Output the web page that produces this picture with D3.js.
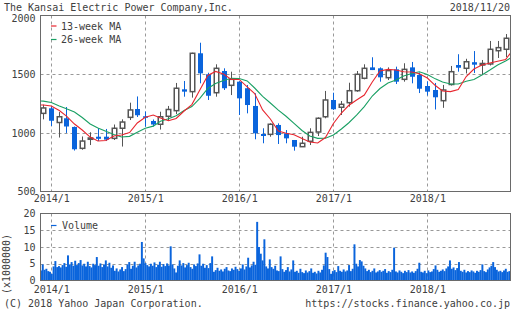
<!DOCTYPE html>
<html><head><meta charset="utf-8">
<script src="https://cdn.jsdelivr.net/npm/d3@7/dist/d3.min.js"></script>
<style>
html,body{margin:0;padding:0;background:#fff;}
svg{display:block;}
text{font-family:"DejaVu Sans Mono",monospace;font-size:10px;fill:#404040;}
</style></head><body><svg id="c" width="512" height="310"></svg>
<script>
// ---- data ----
const title = "The Kansai Electric Power Company,Inc.";
const dateLabel = "2018/11/20";
const months = ["2013/12",
"2014/01","2014/02","2014/03","2014/04","2014/05","2014/06","2014/07","2014/08","2014/09","2014/10","2014/11","2014/12",
"2015/01","2015/02","2015/03","2015/04","2015/05","2015/06","2015/07","2015/08","2015/09","2015/10","2015/11","2015/12",
"2016/01","2016/02","2016/03","2016/04","2016/05","2016/06","2016/07","2016/08","2016/09","2016/10","2016/11","2016/12",
"2017/01","2017/02","2017/03","2017/04","2017/05","2017/06","2017/07","2017/08","2017/09","2017/10","2017/11","2017/12",
"2018/01","2018/02","2018/03","2018/04","2018/05","2018/06","2018/07","2018/08","2018/09","2018/10","2018/11"];
const open  = [1166,
1209,1088,1124,1050,868,945,967,967,953,1039,1132,1203,
1141,1101,1073,1141,1189,1371,1351,1678,1499,1342,1527,1405,
1436,1380,1229,990,987,1067,996,939,882,928,1007,1137,
1280,1218,1257,1359,1465,1558,1550,1470,1541,1456,1558,1493,
1399,1365,1274,1412,1578,1550,1602,1578,1587,1700,1712];
const high  = [1240,
1226,1177,1220,1054,969,1005,1041,1033,1071,1115,1257,1310,
1182,1114,1180,1229,1425,1442,1683,1768,1512,1584,1550,1521,
1440,1408,1337,1039,1081,1081,1024,939,967,1039,1132,1357,
1342,1271,1427,1527,1584,1644,1558,1558,1564,1593,1604,1514,
1439,1425,1408,1570,1670,1631,1697,1621,1783,1783,1842];
const low   = [1115,
1058,960,999,849,856,896,930,930,939,883,1109,1135,
1052,1054,1028,1103,1160,1308,1300,1422,1280,1308,1365,1322,
1152,1166,945,911,967,905,911,848,879,896,973,1124,
1195,1152,1223,1350,1456,1535,1436,1450,1416,1436,1422,1339,
1318,1199,1213,1403,1521,1506,1510,1493,1574,1638,1646];
const close = [1212,
1103,1137,1054,860,930,956,949,942,1039,1092,1195,1150,
1131,1071,1137,1199,1380,1351,1678,1507,1316,1550,1380,1456,
1294,1237,996,973,1073,981,953,882,911,1004,1124,1280,
1201,1243,1359,1499,1550,1535,1473,1530,1436,1541,1478,1376,
1351,1303,1365,1521,1555,1606,1581,1591,1712,1726,1806];
// moving averages: first value at 2013/11/20, then one per month, last at 2018/11/20
const ma13 = [1237,1237,
1229,1190,1143,1075,1024,964,930,935,973,982,1003,1084,
1133,1152,1126,1103,1122,1186,1241,1365,1489,1523,1501,1456,
1455,1391,1335,1195,1118,1016,996,983,951,922,913,960,
1080,1169,1233,1280,1322,1433,1527,1541,1535,1521,1518,1503,
1467,1403,1357,1351,1369,1480,1544,1578,1595,1610,1625,1680];
const ma26 = [1271,1270,
1258,1229,1206,1178,1131,1075,1041,1013,986,965,970,1005,
1039,1057,1099,1120,1145,1190,1224,1293,1378,1420,1446,1465,
1463,1442,1382,1311,1254,1193,1141,1080,1020,973,953,954,
982,1033,1084,1150,1224,1314,1378,1425,1450,1484,1506,1520,
1497,1460,1433,1416,1416,1439,1455,1493,1535,1578,1612,1638];
// weekly volume (x1,000,000 shares), weeks starting 2013/11/18
const volume = [
3.0,4.8,3.2,3.5,2.8,2.6,2.0,4.2,5.8,4.0,
4.3,3.9,4.6,5.2,4.1,7.5,4.8,5.5,4.4,5.9,
4.6,5.2,6.1,4.5,5.0,4.2,5.6,4.3,3.9,5.0,
4.6,7.0,4.4,5.1,4.0,4.8,6.0,4.2,5.3,3.8,
4.5,2.9,3.6,2.7,3.3,4.0,2.8,3.4,4.8,5.5,
3.5,4.4,5.6,3.9,4.5,5.0,11.5,6.6,5.2,4.6,
4.2,5.0,4.4,5.4,4.0,4.7,5.6,4.1,4.9,4.3,
5.1,4.5,10.2,4.8,3.6,2.4,4.4,6.0,4.5,5.2,
3.9,4.6,5.3,4.0,3.5,4.8,4.3,5.1,7.8,4.4,
5.0,3.8,4.6,3.7,5.2,7.2,2.6,3.1,3.8,2.9,
3.3,2.7,3.5,4.0,3.0,2.8,3.6,3.2,4.1,3.4,
2.9,3.6,4.8,3.3,4.2,6.8,3.9,4.5,5.6,4.7,
17.5,10.0,8.0,6.0,12.3,4.2,3.6,6.3,4.0,3.5,
4.4,3.0,2.8,7.2,3.4,2.6,3.1,4.0,2.7,3.3,
6.0,2.6,2.9,2.3,3.5,2.5,2.2,3.0,2.4,2.8,
3.6,2.3,2.6,2.1,2.9,2.4,3.2,4.5,8.3,7.0,
3.4,2.0,2.8,3.1,2.5,4.3,2.9,2.6,3.3,2.7,
3.0,4.6,2.8,3.5,10.8,5.0,4.2,6.1,5.7,4.4,
3.6,2.8,3.2,2.5,2.9,3.6,2.4,2.7,3.1,2.6,
2.9,3.4,2.3,2.8,2.5,3.2,9.8,2.7,2.4,3.0,
2.6,2.2,2.9,2.5,3.1,2.4,2.7,2.3,2.8,3.5,
5.3,2.6,2.4,2.9,2.2,3.0,2.5,2.7,3.4,4.5,
3.2,2.6,2.9,3.3,2.8,3.6,4.2,6.0,3.5,3.9,
3.1,3.7,5.5,2.9,2.6,3.2,2.4,2.8,2.5,3.0,
2.7,2.3,2.9,2.6,3.1,4.8,2.8,2.5,3.3,3.9,
4.4,5.5,4.0,3.2,2.7,2.9,2.5,3.0,3.5,2.6,2.8];
const priceTicks = [500,1000,1500,2000];
const volTicks = [0,5,10,15,20];
const yearTicks = ["2014/1/1","2015/1/1","2016/1/1","2017/1/1","2018/1/1"];
const rangeStart = "2013/11/20", rangeEnd = "2018/11/20";

// ---- drawing ----
const parse = d3.timeParse("%Y/%m/%d");
const mDates = months.map(m => parse(m + "/01"));
const d0 = parse(rangeStart), d1 = parse(rangeEnd);
const maDates = [d0, ...mDates, d1];
const yearDates = yearTicks.map(parse);
const weekDates = volume.map((v,i) => d3.timeDay.offset(parse("2013/11/18"), i*7));

const L = 40.5, R = 510.5;
const mainTop = 15.5, mainBot = 191.5;
const volTop = 213.5, volBot = 280.5;
const BLUE = "#0a64dc", GRAY = "#555", FRAME = "#6a6a6a", GRID = "#999";

const svg = d3.select("#c");
const x = d3.scaleTime().domain([d0, d1]).range([L, R]);
const y = d3.scaleLinear().domain([500, 2000]).range([mainBot, mainTop]);
const yv = d3.scaleLinear().domain([0, 20]).range([volBot, volTop]);

const defs = svg.append("defs");
defs.append("clipPath").attr("id","clipM").append("rect").attr("x",L).attr("y",mainTop).attr("width",R-L).attr("height",mainBot-mainTop);
defs.append("clipPath").attr("id","clipV").append("rect").attr("x",L).attr("y",volTop).attr("width",R-L).attr("height",volBot-volTop);

function grid(top, bot, yscale, vals) {
  const g = svg.append("g").attr("stroke", GRID).attr("stroke-dasharray","3,3").attr("stroke-width",1);
  yearDates.forEach(d => {
    const xx = Math.round(x(d)) + 0.5;
    g.append("line").attr("x1",xx).attr("x2",xx).attr("y1",top).attr("y2",bot);
  });
  vals.forEach(v => {
    const yy = Math.round(yscale(v)) + 0.5;
    g.append("line").attr("x1",L).attr("x2",R).attr("y1",yy).attr("y2",yy);
  });
}
grid(mainTop, mainBot, y, [1000,1500]);
grid(volTop, volBot, yv, [5,10,15]);

// candles
const cg = svg.append("g").attr("clip-path","url(#clipM)");
months.forEach((m,i) => {
  const cx = Math.round(x(mDates[i])) + 0.5;
  const up = close[i] >= open[i];
  const col = up ? GRAY : BLUE;
  cg.append("line").attr("x1",cx).attr("x2",cx).attr("y1",y(high[i])).attr("y2",y(low[i]))
    .attr("stroke",col).attr("stroke-width",1);
  const top = y(Math.max(open[i],close[i])), bot = y(Math.min(open[i],close[i]));
  if (up) {
    cg.append("rect").attr("x",cx-2.25).attr("width",4.5).attr("y",top).attr("height",Math.max(1,bot-top))
      .attr("fill","#fff").attr("stroke",GRAY).attr("stroke-width",1.5);
  } else {
    cg.append("rect").attr("x",cx-2.5).attr("width",5).attr("y",top).attr("height",Math.max(1.5,bot-top))
      .attr("fill",BLUE);
  }
});

// moving averages
const line = d3.line().x((d,i) => x(maDates[i])).y(d => y(d));
cg.append("path").datum(ma26).attr("d",line).attr("fill","none").attr("stroke","#1aa064").attr("stroke-width",1.1);
cg.append("path").datum(ma13).attr("d",line).attr("fill","none").attr("stroke","#e8262f").attr("stroke-width",1.1);

// volume
const vg = svg.append("g").attr("clip-path","url(#clipV)");
vg.selectAll("rect").data(volume).join("rect")
  .attr("x",(d,i) => x(weekDates[i]))
  .attr("width",(d,i) => x(d3.timeDay.offset(weekDates[i],7)) - x(weekDates[i]) + 0.15)
  .attr("y",d => yv(d)).attr("height",d => volBot - yv(d))
  .attr("fill",BLUE);

// frames
[[mainTop,mainBot],[volTop,volBot]].forEach(([t,b]) => {
  svg.append("rect").attr("x",L).attr("y",t).attr("width",R-L).attr("height",b-t)
    .attr("fill","none").attr("stroke",FRAME).attr("stroke-width",1);
});

// axes
function styleAxis(g){ g.select(".domain").remove(); g.selectAll("line").remove(); }
const num = d3.format("d");
const pAxis = svg.append("g").attr("transform",`translate(${L-5},0)`)
  .call(d3.axisLeft(y).tickValues(priceTicks).tickFormat(num).tickSize(0).tickPadding(0)).call(styleAxis);
pAxis.selectAll(".tick").filter(d => d === 2000).select("text").attr("dy","0.6em");
svg.append("g").attr("transform",`translate(${L-5},0)`)
  .call(d3.axisLeft(yv).tickValues(volTicks).tickFormat(num).tickSize(0).tickPadding(0)).call(styleAxis);
const fmt = d3.timeFormat("%Y/%-m");
svg.append("g").attr("transform",`translate(0,${mainBot+3.5})`)
  .call(d3.axisBottom(x).tickValues(yearDates).tickFormat(fmt).tickSize(0).tickPadding(0)).call(styleAxis);
svg.append("g").attr("transform",`translate(0,${volBot+5})`)
  .call(d3.axisBottom(x).tickValues(yearDates).tickFormat(fmt).tickSize(0).tickPadding(0)).call(styleAxis);

// legends
function legend(yy, color, label, tx) {
  svg.append("line").attr("x1",51).attr("x2",56.5).attr("y1",yy).attr("y2",yy).attr("stroke",color).attr("stroke-width",1.2);
  svg.append("text").attr("x",tx).attr("y",yy).attr("dominant-baseline","central").text(label);
}
legend(26, "#e8262f", "13-week MA", 61);
legend(39.5, "#1aa064", "26-week MA", 61);
legend(225.5, BLUE, "Volume", 62);

// texts
svg.append("text").attr("x",4).attr("y",7).attr("dominant-baseline","central").text(title);
svg.append("text").attr("x",510).attr("y",7).attr("text-anchor","end").attr("dominant-baseline","central").text(dateLabel);
svg.append("text").attr("x",4).attr("y",303).attr("dominant-baseline","central").text("(C) 2018 Yahoo Japan Corporation.");
svg.append("text").attr("x",510).attr("y",303).attr("text-anchor","end").attr("dominant-baseline","central").text("https://stocks.finance.yahoo.co.jp");
svg.append("text").attr("transform","translate(6,264) rotate(-90)").attr("text-anchor","middle").attr("dominant-baseline","central").text("(x1000000)");
</script></body></html>
